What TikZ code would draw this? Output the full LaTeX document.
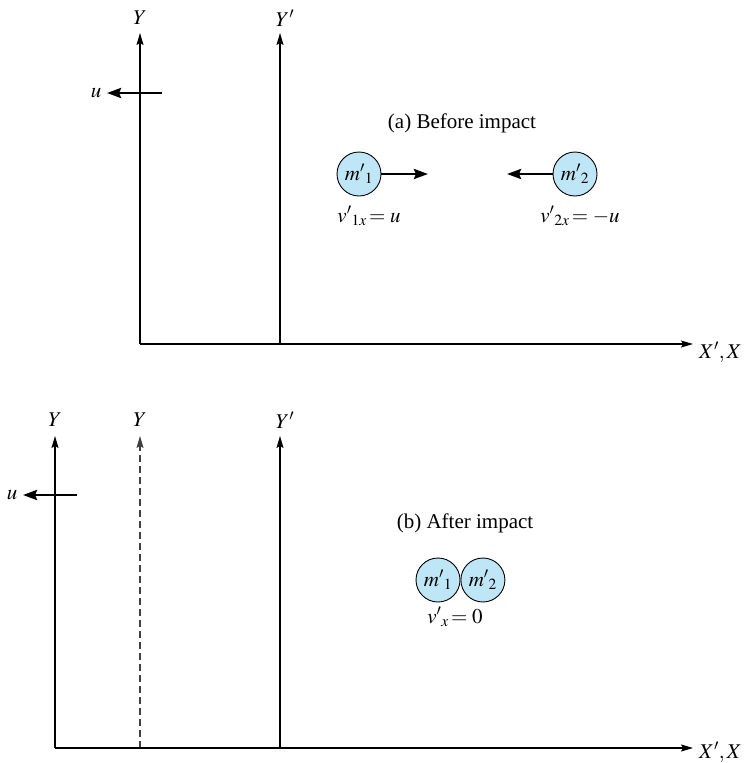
\documentclass[tikz,border=0pt]{standalone}
\usepackage{mathptmx}
\usepackage{fontspec}
\setmainfont{Liberation Serif}
\usetikzlibrary{arrows.meta}
\definecolor{ballfill}{RGB}{190,230,246}
\tikzset{
  axis/.style={line width=1.1pt, -{Stealth[length=12pt,width=7pt,inset=2pt]}},
  vel/.style={line width=2.8pt, -{Stealth[length=14pt,width=10pt,inset=2pt]}},
  dashaxis/.style={line width=1.1pt, dash pattern=on 7pt off 4pt, draw=black!75, -{Stealth[length=12pt,width=7pt,inset=2pt]}},
  ball/.style={circle, draw=black, line width=0.9pt, fill=ballfill, minimum size=44pt, inner sep=0pt},
  lab/.style={inner sep=0pt},
  every node/.style={font=\fontsize{21}{25}\selectfont}
}
\begin{document}
\begin{tikzpicture}[x=1pt,y=-1pt]
\useasboundingbox (0,0) rectangle (745,763);
% ---------- panel (a)
\coordinate (Oa) at (140,344);
\coordinate (YaT) at (140,33);
\coordinate (Ypa0) at (280,344);
\coordinate (YpaT) at (280,33);
\coordinate (XaT) at (693,344);
\draw[axis] (Oa) -- (YaT);
\draw[axis] (Ypa0) -- (YpaT);
\draw[axis] (Oa) -- (XaT);
\node[lab] (lYa) at (140,18) {$Y$};
\node[lab] (lYpa) at (285,18) {$Y'$};
\node[lab,anchor=west] (lXa) at (699,352) {$X',X$};
\coordinate (ua0) at (162,93);
\coordinate (ua1) at (107,93);
\node[lab] (lua) at (96,93) {$u$};
\draw[vel] (ua0) -- (ua1);
\node[lab] (ta) at (462,123) {(a) Before impact};
\node[ball] (m1a) at (359,174) {$m'{}_1$};
\node[ball] (m2a) at (575,174) {$m'{}_2$};
\coordinate (v1a) at (428,174);
\coordinate (v2a) at (507,174);
\draw[vel] (m1a.east) -- (v1a);
\draw[vel] (m2a.west) -- (v2a);
\node[lab] (v1l) at (369,216) {$v'{}_{1x}\!= u$};
\node[lab] (v2l) at (580,216) {$v'{}_{2x}\!= -u$};
% ---------- panel (b)
\coordinate (Ob) at (55,748);
\coordinate (YbT) at (55,436);
\coordinate (Yd0) at (140,748);
\coordinate (YdT) at (140,436);
\coordinate (Ypb0) at (280,748);
\coordinate (YpbT) at (280,436);
\coordinate (XbT) at (693,748);
\draw[axis] (Ob) -- (YbT);
\draw[dashaxis] (Yd0) -- (YdT);
\draw[axis] (Ypb0) -- (YpbT);
\draw[axis] (Ob) -- (XbT);
\node[lab] (lYb) at (55,420) {$Y$};
\node[lab] (lYd) at (140,420) {$Y$};
\node[lab] (lYpb) at (285,420) {$Y'$};
\node[lab,anchor=west] (lXb) at (699,752) {$X',X$};
\coordinate (ub0) at (77,495);
\coordinate (ub1) at (23,495);
\node[lab] (lub) at (12,495) {$u$};
\draw[vel] (ub0) -- (ub1);
\node[lab] (tb) at (465,523) {(b) After impact};
\node[ball] (m1b) at (438,580) {$m'{}_1$};
\node[ball,anchor=west] (m2b) at (m1b.east) {$m'{}_2$};
\node[lab] (vbl) at (455,617) {$v'{}_x\!= 0$};
\end{tikzpicture}
\end{document}
